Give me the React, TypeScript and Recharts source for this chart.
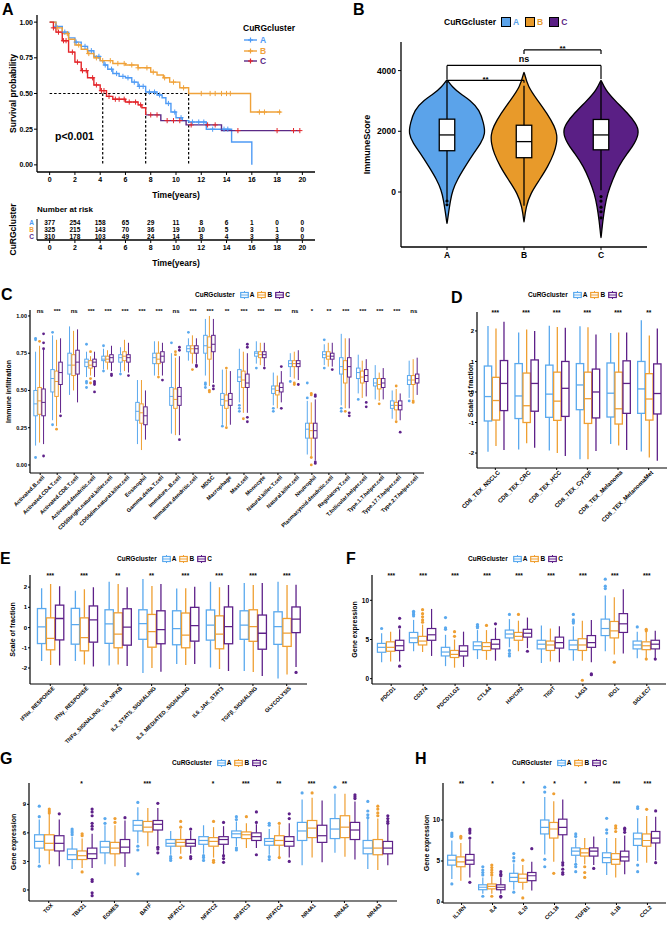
import React from "react";
import {
  Bar,
  ComposedChart,
  Curve,
  Line,
  ReferenceLine,
  Scatter,
  ScatterChart,
  XAxis,
  YAxis,
} from "recharts";

type Stat = [number, number, number, number, number]; // lo, q1, median, q3, hi
type G = "A" | "B" | "C";

const FONT = "'Liberation Sans', Arial, sans-serif";
const GROUPS: G[] = ["A", "B", "C"];
const BOX_COL: Record<G, string> = { A: "#5AA9EE", B: "#EF9F32", C: "#5E2189" };
const VIO_COL: Record<G, string> = { A: "#5BA3EA", B: "#E89A2A", C: "#5A1F85" };
const KM_COL: Record<G, string> = { A: "#4F9BF5", B: "#F0A23A", C: "#E3262B" };
const KM_C_LATE = "#5B2A86";

// ---------- A: survival ----------
const KM_A_T = [0, 0.5, 1, 1.5, 2, 2.5, 3, 3.5, 4, 4.3, 4.6, 5, 5.5, 6, 6.5, 7, 7.6, 8.5, 8.9, 9.2, 9.6, 10, 10.5, 11, 12.4, 14.4, 16];
const KM_A_S = [1, 0.97, 0.93, 0.89, 0.86, 0.83, 0.8, 0.76, 0.73, 0.7, 0.67, 0.64, 0.62, 0.61, 0.58, 0.55, 0.51, 0.49, 0.47, 0.43, 0.37, 0.33, 0.31, 0.3, 0.25, 0.16, 0];
const KM_B_T = [0, 0.5, 1, 1.5, 2, 2.5, 3, 3.5, 4, 5, 6, 7, 8, 8.5, 9, 9.5, 10.3, 11, 15.9, 18.3];
const KM_B_S = [1, 0.96, 0.92, 0.88, 0.84, 0.81, 0.78, 0.75, 0.73, 0.71, 0.7, 0.68, 0.65, 0.63, 0.61, 0.58, 0.54, 0.5, 0.37, 0.37];
const KM_C_T = [0, 0.3, 0.5, 1, 1.5, 2, 2.5, 3, 3.5, 4, 4.5, 5, 6, 7, 7.3, 7.6, 8.8, 10.8, 13.6, 19.8];
const KM_C_S = [1, 0.96, 0.93, 0.87, 0.79, 0.72, 0.66, 0.61, 0.56, 0.52, 0.48, 0.46, 0.44, 0.42, 0.4, 0.35, 0.31, 0.28, 0.24, 0.24];
const CENSOR_A = [0.5, 1.2, 2.1, 2.8, 3.3, 3.9, 4.4, 4.9, 5.3, 5.8, 6.2, 6.7, 7.1, 7.4, 7.9, 8.3, 8.7, 9.4, 9.9, 10.4, 11.3, 11.8, 12.2, 12.9, 13.8, 14.1];
const CENSOR_B = [0.6, 1.4, 2.3, 3.1, 3.7, 4.2, 4.8, 5.4, 5.9, 6.5, 7.0, 7.7, 8.2, 9.1, 9.8, 10.6, 12.0, 12.7, 13.1, 13.6, 14.0, 14.3, 16.6, 17.0, 18.2];
const CENSOR_C = [0.3, 0.7, 1.1, 1.3, 1.8, 2.2, 2.6, 2.9, 3.4, 3.7, 4.1, 4.3, 4.7, 5.2, 5.5, 5.9, 6.3, 6.8, 7.2, 8.0, 8.5, 9.3, 9.8, 10.3, 11.2, 12.5, 13.1, 14.9, 18.0, 19.3, 19.8];
const MEDIAN_TIMES = [4.2, 7.6, 11.0];
const RISK_TIMES = [0, 2, 4, 6, 8, 10, 12, 14, 16, 18, 20];
const RISK_A = [377, 254, 158, 65, 29, 11, 8, 6, 1, 0, 0];
const RISK_B = [325, 215, 143, 70, 36, 19, 10, 5, 3, 1, 0];
const RISK_C = [310, 178, 103, 49, 24, 14, 8, 4, 3, 3, 0];

// ---------- B: violin ----------
const VIO_A_V = [3700, 3470, 3230, 3030, 2700, 2270, 1930, 1600, 1275, 835, 395, 65, -265, -690, -1050];
const VIO_A_W = [0, 0.13, 0.35, 0.6, 0.85, 0.95, 1.0, 0.88, 0.69, 0.47, 0.26, 0.15, 0.09, 0.04, 0];
const VIO_B_V = [3960, 3470, 3030, 2590, 2150, 1880, 1600, 1275, 835, 395, -45, -480, -1010];
const VIO_B_W = [0, 0.1, 0.35, 0.6, 0.8, 0.86, 0.85, 0.78, 0.62, 0.4, 0.17, 0.05, 0];
const VIO_C_V = [3690, 3360, 3030, 2590, 2270, 1990, 1600, 1275, 835, 395, -45, -480, -920, -1530];
const VIO_C_W = [0, 0.12, 0.35, 0.7, 0.9, 1.0, 0.88, 0.68, 0.45, 0.3, 0.17, 0.1, 0.05, 0];
const SCORE_BOX: Stat[] = [
  [-260, 1360, 1880, 2400, 3630],
  [-450, 1130, 1660, 2200, 3500],
  [60, 1390, 1880, 2390, 3640],
];
const SCORE_OUT = [[-300, -420], [], [-150, -300, -500, -650, -850]];
const BRACKETS = [
  { from: "A", to: "B", y: 3680, end: 3600, text: "**" },
  { from: "A", to: "C", y: 4170, end: 3720, text: "ns" },
  { from: "B", to: "C", y: 4680, end: 4550, text: "**" },
];

// ---------- C: immune infiltration ----------
const IMM_CELLS = [
  "Activated.B.cell", "Activated.CD4.T.cell", "Activated.CD8.T.cell", "Activated.dendritic.cell",
  "CD56bright.natural.killer.cell", "CD56dim.natural.killer.cell", "Eosinophil", "Gamma.delta.T.cell",
  "Immature..B.cell", "Immature.dendritic.cell", "MDSC", "Macrophage", "Mast.cell", "Monocyte",
  "Natural.killer.T.cell", "Natural.killer.cell", "Neutrophil", "Plasmacytoid.dendritic.cell",
  "Regulatory.T.cell", "T.follicular.helper.cell", "Type.1.T.helper.cell", "Type.17.T.helper.cell",
  "Type.2.T.helper.cell",
];
const IMM_SIG = ["ns", "***", "ns", "***", "***", "***", "***", "***", "ns", "***", "***", "**", "***", "***", "***", "ns", "*", "**", "***", "***", "***", "***", "ns"];
const IMM_A: Stat[] = [
  [0.13, 0.33, 0.41, 0.5, 0.76], [0.3, 0.49, 0.58, 0.64, 0.87], [0.47, 0.61, 0.67, 0.75, 0.93],
  [0.59, 0.66, 0.69, 0.71, 0.76], [0.64, 0.7, 0.71, 0.73, 0.78], [0.62, 0.69, 0.72, 0.74, 0.79],
  [0.14, 0.3, 0.36, 0.42, 0.57], [0.6, 0.68, 0.72, 0.75, 0.83], [0.21, 0.4, 0.46, 0.52, 0.75],
  [0.7, 0.76, 0.78, 0.8, 0.85], [0.6, 0.75, 0.8, 0.87, 0.98], [0.27, 0.4, 0.44, 0.48, 0.64],
  [0.42, 0.56, 0.59, 0.64, 0.78], [0.68, 0.73, 0.75, 0.76, 0.83], [0.4, 0.48, 0.51, 0.53, 0.62],
  [0.59, 0.66, 0.68, 0.7, 0.75], [0.07, 0.18, 0.24, 0.28, 0.43], [0.67, 0.72, 0.74, 0.76, 0.81],
  [0.4, 0.61, 0.66, 0.72, 0.88], [0.48, 0.58, 0.62, 0.65, 0.74], [0.44, 0.53, 0.55, 0.58, 0.67],
  [0.31, 0.38, 0.4, 0.43, 0.5], [0.45, 0.54, 0.57, 0.6, 0.7],
];
const IMM_B: Stat[] = [
  [0.15, 0.34, 0.43, 0.52, 0.8], [0.26, 0.46, 0.56, 0.63, 0.84], [0.5, 0.6, 0.67, 0.74, 0.9],
  [0.6, 0.65, 0.67, 0.7, 0.73], [0.64, 0.69, 0.71, 0.73, 0.77], [0.63, 0.7, 0.73, 0.76, 0.84],
  [0.1, 0.28, 0.35, 0.41, 0.57], [0.6, 0.68, 0.71, 0.75, 0.83], [0.2, 0.38, 0.44, 0.51, 0.72],
  [0.68, 0.75, 0.78, 0.8, 0.87], [0.53, 0.71, 0.79, 0.86, 1.0], [0.26, 0.38, 0.43, 0.47, 0.64],
  [0.35, 0.52, 0.57, 0.63, 0.76], [0.67, 0.72, 0.74, 0.76, 0.82], [0.38, 0.47, 0.5, 0.53, 0.6],
  [0.58, 0.66, 0.68, 0.7, 0.76], [0.06, 0.18, 0.23, 0.28, 0.42], [0.66, 0.71, 0.73, 0.76, 0.82],
  [0.38, 0.55, 0.64, 0.7, 0.85], [0.45, 0.55, 0.59, 0.63, 0.7], [0.43, 0.51, 0.54, 0.58, 0.62],
  [0.3, 0.37, 0.4, 0.42, 0.51], [0.44, 0.54, 0.57, 0.6, 0.71],
];
const IMM_C: Stat[] = [
  [0.14, 0.33, 0.42, 0.51, 0.78], [0.35, 0.54, 0.62, 0.69, 0.85], [0.42, 0.61, 0.69, 0.77, 0.91],
  [0.59, 0.66, 0.69, 0.71, 0.76], [0.63, 0.69, 0.72, 0.74, 0.8], [0.62, 0.69, 0.72, 0.74, 0.82],
  [0.17, 0.27, 0.33, 0.39, 0.5], [0.6, 0.69, 0.73, 0.76, 0.82], [0.2, 0.4, 0.46, 0.52, 0.73],
  [0.68, 0.75, 0.78, 0.8, 0.85], [0.55, 0.76, 0.81, 0.87, 0.98], [0.27, 0.4, 0.44, 0.48, 0.63],
  [0.35, 0.52, 0.55, 0.61, 0.75], [0.66, 0.72, 0.74, 0.76, 0.82], [0.42, 0.49, 0.52, 0.55, 0.63],
  [0.57, 0.66, 0.68, 0.7, 0.77], [0.03, 0.18, 0.23, 0.28, 0.44], [0.66, 0.71, 0.73, 0.75, 0.82],
  [0.38, 0.59, 0.66, 0.72, 0.85], [0.46, 0.56, 0.6, 0.64, 0.71], [0.44, 0.52, 0.55, 0.58, 0.65],
  [0.3, 0.37, 0.4, 0.43, 0.48], [0.47, 0.55, 0.58, 0.61, 0.72],
];
const IMM_OUT_A = [[0.85, 0.84, 0.05], [0.89, 0.27], [], [0.81, 0.56, 0.55, 0.52], [0.8, 0.63], [0.61], [], [], [0.82], [0.89], [0.55, 0.54, 0.52], [0.26], [0.4, 0.38, 0.36], [0.65], [0.38, 0.36], [0.56], [0.55, 0.45], [0.84, 0.65], [0.38, 0.36], [0.44], [], [], [0.43]];
const IMM_OUT_B = [[0.83], [0.24], [], [0.76, 0.58, 0.55], [], [], [], [0.59], [0.76, 0.74], [0.64], [0.5, 0.49], [0.65, 0.25], [0.31], [], [], [0.55, 0.54], [0.48, 0.47, 0.05, 0.0], [], [0.36], [], [0.41], [0.53, 0.29], [0.43, 0.42]];
const IMM_OUT_C = [[0.88, 0.82, 0.78, 0.06], [0.33], [], [0.56, 0.55, 0.54, 0.49], [0.61, 0.6], [0.6], [], [0.57], [0.79, 0.77, 0.17], [0.67, 0.66], [0.53, 0.51], [], [0.81, 0.79, 0.32, 0.29], [0.65], [0.66, 0.38], [0.54], [0.47, 0.46, 0.02, 0.01], [0.64], [0.35, 0.33], [0.42, 0.39], [], [0.22], []];

// ---------- D: CD8 TEX ----------
const TEX_SETS = ["CD8_TEX_NSCLC", "CD8_TEX_CRC", "CD8_TEX_HCC", "CD8_TEX_CyTOF", "CD8_TEX_Melanoma", "CD8_TEX_MelanomaMet"];
const TEX_SIG = ["***", "***", "***", "***", "***", "**"];
const TEX_A: Stat[] = [[-1.96, -0.95, -0.15, 0.85, 2.16], [-1.88, -0.87, -0.13, 0.93, 1.95], [-1.92, -0.83, -0.07, 0.88, 2.17], [-2.2, -0.58, 0.23, 0.93, 2.15], [-1.7, -0.82, -0.04, 0.95, 1.93], [-1.95, -0.7, 0.1, 1.0, 2.35]];
const TEX_B: Stat[] = [[-1.77, -0.92, -0.28, 0.48, 2.08], [-1.68, -1.0, -0.45, 0.62, 2.05], [-2.0, -0.93, -0.3, 0.65, 2.13], [-2.2, -1.03, -0.22, 0.65, 2.12], [-1.75, -1.05, -0.55, 0.65, 1.95], [-2.15, -0.92, -0.23, 0.6, 1.85]];
const TEX_C: Stat[] = [[-1.9, -0.61, 0.28, 1.03, 2.3], [-1.83, -0.63, 0.28, 1.05, 2.0], [-2.1, -0.8, 0.12, 1.0, 2.1], [-1.93, -0.85, 0.0, 0.75, 1.88], [-1.9, -0.7, 0.28, 1.02, 1.95], [-2.25, -0.72, -0.05, 0.92, 2.08]];

// ---------- E: pathways ----------
const PATHWAYS = ["IFNα_RESPONSE", "IFNγ_RESPONSE", "TNFα_SIGNALING_VIA_NFKB", "IL2_STAT5_SIGNALING", "IL3_MEDIATED_SIGNALING", "IL6_JAK_STAT3", "TGFβ_SIGNALING", "GLYCOLYSIS"];
const PATH_SIG = ["***", "***", "**", "**", "***", "***", "***", "***"];
const PATH_A: Stat[] = [[-1.65, -0.79, 0.03, 0.94, 1.95], [-1.65, -0.82, 0.15, 0.95, 1.82], [-1.88, -0.78, 0.18, 0.88, 2.27], [-2.25, -0.58, 0.2, 0.88, 2.4], [-1.8, -0.85, -0.05, 0.83, 1.93], [-1.98, -0.62, 0.12, 0.87, 2.27], [-2.15, -0.58, 0.12, 0.83, 2.2], [-2.52, -0.83, 0.05, 0.78, 2.27]];
const PATH_B: Stat[] = [[-1.85, -1.1, -0.53, 0.48, 2.15], [-1.83, -1.15, -0.5, 0.48, 1.9], [-1.82, -1.0, -0.32, 0.73, 2.15], [-2.0, -0.97, -0.2, 0.65, 2.05], [-1.85, -1.0, -0.37, 0.72, 1.95], [-2.05, -1.05, -0.32, 0.58, 2.0], [-2.2, -0.68, 0.05, 0.88, 2.1], [-2.32, -0.93, -0.27, 0.45, 2.1]];
const PATH_C: Stat[] = [[-1.88, -0.61, 0.45, 1.11, 2.04], [-1.92, -0.72, 0.38, 1.07, 2.0], [-1.9, -0.87, 0.02, 0.93, 2.0], [-2.18, -0.8, -0.1, 0.83, 2.15], [-1.8, -0.67, 0.1, 1.0, 2.02], [-2.15, -0.8, 0.05, 1.02, 2.1], [-2.4, -1.07, -0.28, 0.62, 2.2], [-1.95, -0.25, 0.42, 1.02, 2.12]];
const PATH_OUT_C = [[], [], [], [], [], [], [], [-2.22]];

// ---------- F: checkpoints ----------
const CHECKPOINTS = ["PDCD1", "CD274", "PDCD1LG2", "CTLA4", "HAVCR2", "TIGIT", "LAG3", "IDO1", "SIGLEC7"];
const CHECK_SIG = ["***", "***", "***", "***", "***", "***", "***", "***", "***"];
const CHECK_A: Stat[] = [[2.1, 3.37, 4.0, 4.5, 5.8], [3.5, 4.6, 5.2, 5.9, 7.5], [1.6, 2.9, 3.4, 4.0, 5.6], [2.5, 3.7, 4.2, 4.7, 6.2], [4.0, 5.2, 5.7, 6.2, 7.6], [2.0, 3.8, 4.4, 4.9, 6.8], [2.3, 3.7, 4.3, 4.9, 6.7], [3.5, 5.5, 6.4, 7.6, 10.6], [2.6, 3.8, 4.3, 4.8, 6.0]];
const CHECK_B: Stat[] = [[2.2, 3.5, 4.0, 4.7, 6.0], [3.4, 4.3, 4.8, 5.4, 6.9], [1.4, 2.7, 3.1, 3.6, 5.0], [2.4, 3.6, 4.1, 4.6, 6.2], [3.5, 4.9, 5.4, 5.9, 7.4], [2.2, 3.6, 4.3, 4.8, 6.4], [2.3, 3.6, 4.3, 5.1, 7.4], [3.1, 5.2, 6.1, 7.3, 10.4], [2.6, 3.7, 4.2, 4.7, 6.1]];
const CHECK_C: Stat[] = [[2.2, 3.6, 4.2, 4.9, 6.3], [2.9, 4.9, 5.6, 6.4, 8.9], [1.5, 2.9, 3.5, 4.2, 6.0], [2.3, 3.8, 4.4, 5.0, 6.5], [3.9, 5.3, 5.8, 6.3, 7.8], [2.1, 3.9, 4.6, 5.3, 6.7], [2.1, 4.0, 4.6, 5.5, 7.5], [3.2, 5.9, 7.0, 8.3, 11.4], [2.6, 3.8, 4.4, 4.9, 6.1]];
const CHECK_OUT_A = [[6.4], [8.6, 8.4, 8.2, 8.0], [7.8, 6.5, 6.3], [6.9, 6.7, 6.5], [8.2, 3.6, 3.2, 2.9], [], [8.2, 7.5, 7.3, 7.1], [12.7, 11.8, 11.5], [6.6]];
const CHECK_OUT_B = [[], [8.8, 8.3, 7.9, 7.5, 7.2], [6.0, 5.4], [6.8], [8.2], [], [-0.2], [2.1], [6.3, 6.1, 2.5]];
const CHECK_OUT_C = [[7.7, 6.6, 1.6], [], [], [7.0], [3.5], [], [0.6, 0.5], [], [2.5]];

// ---------- G: T cell TFs ----------
const TF_GENES = ["TOX", "TBX21", "EOMES", "BATF", "NFATC1", "NFATC2", "NFATC3", "NFATC4", "NR4A1", "NR4A2", "NR4A3"];
const TF_SIG = ["", "*", "", "***", "", "*", "***", "**", "***", "**", ""];
const TF_A: Stat[] = [[2.8, 4.4, 5.1, 5.8, 7.4], [2.2, 3.2, 3.7, 4.3, 5.6], [2.7, 3.9, 4.5, 5.1, 6.8], [4.9, 6.2, 6.8, 7.3, 8.7], [3.7, 4.6, 4.9, 5.3, 6.2], [3.8, 4.8, 5.2, 5.6, 6.8], [4.6, 5.5, 5.9, 6.2, 7.2], [3.7, 4.7, 5.1, 5.4, 6.4], [2.6, 5.2, 6.2, 7.1, 9.5], [3.9, 5.4, 6.4, 7.5, 10.1], [2.2, 3.8, 4.4, 5.2, 7.5]];
const TF_B: Stat[] = [[2.7, 4.2, 4.9, 5.8, 8.0], [2.3, 3.2, 3.6, 4.1, 5.4], [2.5, 3.8, 4.4, 5.0, 6.8], [4.6, 6.1, 6.6, 7.2, 8.6], [3.8, 4.6, 5.0, 5.3, 6.4], [3.4, 4.6, 5.1, 5.5, 6.6], [4.4, 5.4, 5.8, 6.1, 7.0], [3.4, 4.7, 5.2, 5.7, 6.8], [3.4, 5.5, 6.5, 7.3, 9.7], [3.5, 5.5, 6.6, 7.8, 10.1], [2.1, 3.7, 4.4, 5.3, 7.5]];
const TF_C: Stat[] = [[2.5, 4.1, 4.9, 5.7, 7.4], [2.3, 3.3, 3.8, 4.4, 5.9], [2.4, 3.9, 4.5, 5.3, 7.3], [4.7, 6.3, 6.9, 7.3, 8.6], [3.8, 4.6, 4.9, 5.3, 6.2], [3.7, 4.8, 5.3, 5.6, 6.7], [4.4, 5.2, 5.6, 6.0, 6.9], [3.4, 4.6, 5.1, 5.6, 7.0], [2.9, 5.0, 5.7, 6.8, 9.4], [3.2, 5.3, 6.3, 7.1, 9.3], [2.6, 3.8, 4.4, 5.1, 6.9]];
const TF_OUT_A = [[8.8, 7.7, 2.5], [6.4, 6.2, 6.0, 5.8], [7.5, 7.0], [9.2, 4.6, 4.2, 1.7], [3.5, 3.3, 3.1], [3.6, 3.4, 3.1], [7.7, 7.4, 4.4, 4.2], [7.0, 6.8, 3.5, 3.2], [10.2], [10.8], [9.3, 8.3, 7.9, 7.6]];
const TF_OUT_B = [[8.5, 8.3, 8.1], [5.9, 5.7, 1.9], [7.5, 7.1], [], [7.2, 6.6, 3.4], [7.2, 3.1, 2.9], [7.7], [7.0, 3.4], [10.2], [], [8.8, 8.5, 8.1, 7.8]];
const TF_OUT_C = [[8.0], [8.5, 8.2, 7.8, 7.0, 6.7, 6.4, 1.1, 0.9, -0.3, -0.6], [7.6], [9.1, 4.5, 4.3, 3.9], [6.4, 3.5, 3.3], [7.1, 3.6, 3.3, 2.9], [8.2, 7.1, 3.7], [8.0, 7.5, 3.0], [], [10.0, 9.8, 9.6], [7.8, 7.5, 7.2, 7.0]];

// ---------- H: cytokines ----------
const CYTOKINES = ["IL1RN", "IL4", "IL10", "CCL18", "TGFB1", "IL1B", "CCL2"];
const CYTO_SIG = ["**", "*", "*", "*", "*", "***", "***"];
const CYTO_A: Stat[] = [[2.8, 4.5, 5.1, 5.7, 7.5], [1.0, 1.5, 1.8, 2.1, 3.0], [1.5, 2.5, 3.0, 3.5, 4.7], [5.8, 8.3, 9.1, 10.0, 12.8], [4.8, 5.7, 6.2, 6.6, 7.7], [3.3, 4.8, 5.4, 6.0, 7.8], [5.0, 6.9, 7.7, 8.4, 10.2]];
const CYTO_B: Stat[] = [[2.6, 4.3, 4.9, 5.5, 7.2], [1.0, 1.6, 1.9, 2.2, 3.1], [1.5, 2.4, 2.9, 3.4, 4.5], [4.9, 7.8, 8.9, 9.7, 12.3], [4.6, 5.6, 6.0, 6.5, 7.8], [3.0, 4.6, 5.2, 5.9, 7.8], [4.8, 6.8, 7.5, 8.3, 10.5]];
const CYTO_C: Stat[] = [[3.0, 4.6, 5.1, 5.8, 7.6], [1.0, 1.5, 1.8, 2.1, 3.0], [1.4, 2.6, 3.2, 3.6, 4.9], [5.0, 8.2, 9.1, 10.1, 12.5], [4.5, 5.6, 6.2, 6.6, 8.0], [3.4, 5.0, 5.5, 6.2, 8.1], [5.1, 7.2, 7.8, 8.6, 10.4]];
const CYTO_OUT_A = [[8.4, 8.2, 8.0, 2.2], [4.3, 3.9, 3.6, 3.3, 0.7], [5.9, 5.4, 5.0, 1.2], [14.0, 13.4, 5.2, 4.3], [8.3, 8.0, 4.6, 4.3, 3.7], [10.2, 8.8, 8.4], [11.6, 11.4, 4.5, 3.7]];
const CYTO_OUT_B = [[8.0, 7.8], [4.5, 4.2, 3.9, 3.6, 3.3, 0.7], [5.1, 0.5], [13.2, 3.5], [4.3, 3.6, 3.0], [9.3, 9.0, 8.6], [11.3]];
const CYTO_OUT_C = [[8.9, 8.7, 8.4, 7.8, 2.4], [3.7, 3.4, 3.2, 0.7, 0.6], [6.5], [4.8, 4.5, 4.0, 3.6, 3.4], [4.1], [9.0, 8.8, 8.5], [11.1, 4.8]];

// ---------- helpers ----------
const bold = (fs: number) => ({ fill: "#000", fontSize: fs, fontWeight: 700, fontFamily: FONT });

const kmAt = (ts: number[], ss: number[], t: number) => {
  let v = ss[0];
  ts.forEach((x, i) => {
    if (x <= t) v = ss[i];
  });
  return v;
};

function PanelLetter({ x, y, text }: { x: number; y: number; text: string }) {
  return (
    <div style={{ position: "absolute", left: x, top: y, fontFamily: FONT, fontWeight: 700, fontSize: 16, lineHeight: 1 }}>
      {text}
    </div>
  );
}

function BoxLegend({ left, cy, fs }: { left: number; cy: number; fs: number }) {
  return (
    <div
      style={{
        position: "absolute", left, top: cy - fs * 0.6, display: "flex", alignItems: "center",
        fontFamily: FONT, fontWeight: 700, fontSize: fs, lineHeight: 1.2, whiteSpace: "nowrap",
      }}
    >
      <span style={{ marginRight: 5 }}>CuRGcluster</span>
      {GROUPS.map((g) => (
        <span key={g} style={{ display: "flex", alignItems: "center", marginRight: 3 }}>
          <svg width={9} height={8} style={{ marginRight: 1 }}>
            <line x1={4.5} x2={4.5} y1={0} y2={8} stroke={BOX_COL[g]} strokeWidth={1} />
            <rect x={0.7} y={1.5} width={7.6} height={5} fill="#fff" stroke={BOX_COL[g]} strokeWidth={1.2} />
            <line x1={0.7} x2={8.3} y1={4} y2={4} stroke={BOX_COL[g]} strokeWidth={1} />
          </svg>
          <span>{g}</span>
        </span>
      ))}
    </div>
  );
}

function BoxShape(props: any) {
  const { x, y, width, height, payload, g, sw, r } = props;
  const s: Stat = payload[g];
  const [lo, q1, med, q3, hi] = s;
  const py = (v: number) => y + ((hi - v) / (hi - lo)) * height;
  const cx = x + width / 2;
  const bw = Math.max(width - sw * 0.5, 1);
  const col = BOX_COL[g as G];
  const outs: number[] = payload["o" + g] || [];
  return (
    <g>
      <line x1={cx} x2={cx} y1={py(hi)} y2={py(q3)} stroke={col} strokeWidth={sw} />
      <line x1={cx} x2={cx} y1={py(q1)} y2={py(lo)} stroke={col} strokeWidth={sw} />
      <rect x={cx - bw / 2} y={py(q3)} width={bw} height={py(q1) - py(q3)} fill="#fff" stroke={col} strokeWidth={sw} />
      <line x1={cx - bw / 2} x2={cx + bw / 2} y1={py(med)} y2={py(med)} stroke={col} strokeWidth={sw} />
      {outs.map((o, i) => (
        <circle key={i} cx={cx} cy={py(o)} r={r} fill={col} />
      ))}
    </g>
  );
}

type BoxPanelProps = {
  left: number; top: number; width: number; height: number;
  mTop: number; mRight: number; yW: number; xH: number;
  names: string[]; sig: string[]; stats: Stat[][]; outs: number[][][];
  domain: [number, number]; ticks: number[]; fmt?: (v: number) => string;
  yLabel: string; yLabelX: number; tickFs: number; xFs: number; sigFs: number; labFs: number;
  sw: number; r: number; gap: string; pad: number;
};

function BoxPanel(p: BoxPanelProps) {
  const rows = p.names.map((name, i) => ({
    name,
    sig: p.sig[i],
    A: p.stats[0][i], B: p.stats[1][i], C: p.stats[2][i],
    oA: (p.outs[0] || [])[i] || [], oB: (p.outs[1] || [])[i] || [], oC: (p.outs[2] || [])[i] || [],
  }));
  const tick = (t: any) => {
    const { x, y, payload } = t;
    const i = p.names.indexOf(payload.value);
    return (
      <g>
        <text
          x={x + 2} y={y - 1} dy={p.xFs * 0.7} transform={`rotate(-45 ${x + 2} ${y - 1})`}
          textAnchor="end" {...bold(p.xFs)}
        >
          {payload.value}
        </text>
        <text x={x} y={p.mTop + 3} textAnchor="middle" {...bold(p.sigFs)}>
          {p.sig[i]}
        </text>
      </g>
    );
  };
  return (
    <div style={{ position: "absolute", left: p.left, top: p.top }}>
      <ComposedChart
        width={p.width} height={p.height} data={rows}
        margin={{ top: p.mTop, right: p.mRight, left: 0, bottom: 0 }}
        barCategoryGap={p.gap} barGap={0}
      >
        <XAxis
          dataKey="name" type="category" height={p.xH} interval={0} tick={tick}
          tickSize={2} tickMargin={1} padding={{ left: p.pad, right: p.pad }}
          axisLine={{ stroke: "#000", strokeWidth: 1.2 }} tickLine={{ stroke: "#000" }}
        />
        <YAxis
          type="number" domain={p.domain} ticks={p.ticks} allowDataOverflow width={p.yW}
          tickFormatter={p.fmt} tick={bold(p.tickFs)} tickSize={2} tickMargin={1}
          axisLine={{ stroke: "#000", strokeWidth: 1.2 }} tickLine={{ stroke: "#000" }}
          label={{
            value: p.yLabel, angle: -90, position: "insideLeft", offset: p.yLabelX,
            style: { textAnchor: "middle", fontSize: p.labFs, fontWeight: 700, fontFamily: FONT, fill: "#000" },
          }}
        />
        {GROUPS.map((g) => (
          <Bar
            key={g}
            dataKey={(d: any) => [d[g][0], d[g][4]]}
            isAnimationActive={false}
            shape={(s: any) => <BoxShape {...s} g={g} sw={p.sw} r={p.r} />}
          />
        ))}
      </ComposedChart>
    </div>
  );
}

function ViolinShape(props: any) {
  const { x, y, width, height, payload } = props;
  const [vmin, vmax] = payload.range;
  const py = (v: number) => y + ((vmax - v) / (vmax - vmin)) * height;
  const cx = x + width / 2;
  const half = width / 2;
  const right = payload.dv.map((v: number, i: number) => ({ x: cx + payload.dw[i] * half, y: py(v) }));
  const left = right.map((pt: any) => ({ x: 2 * cx - pt.x, y: pt.y })).reverse();
  const [lo, q1, med, q3, hi] = payload.box as Stat;
  const bw = 15.5;
  return (
    <g>
      <Curve points={[...right, ...left]} type="basisClosed" fill={payload.fill} stroke="#000" strokeWidth={1.3} />
      <line x1={cx} x2={cx} y1={py(hi)} y2={py(lo)} stroke="#000" strokeWidth={1.3} />
      <rect x={cx - bw / 2} y={py(q3)} width={bw} height={py(q1) - py(q3)} fill="#fff" stroke="#000" strokeWidth={1.3} />
      <line x1={cx - bw / 2} x2={cx + bw / 2} y1={py(med)} y2={py(med)} stroke="#000" strokeWidth={1.3} />
      {payload.outs.map((o: number, i: number) => (
        <circle key={i} cx={cx} cy={py(o)} r={1.6} fill="#000" />
      ))}
    </g>
  );
}

function KMPanel() {
  const series = [
    { g: "A" as G, t: KM_A_T, s: KM_A_S, cens: CENSOR_A },
    { g: "B" as G, t: KM_B_T, s: KM_B_S, cens: CENSOR_B },
    { g: "C" as G, t: KM_C_T, s: KM_C_S, cens: CENSOR_C },
  ];
  const steps = series.map((se) => se.t.map((t, i) => ({ t, s: se.s[i] })));
  const cEarly = steps[2].filter((d) => d.t <= 7.6);
  const cLate = steps[2].filter((d) => d.t >= 7.6);
  const cross = (color: string) => (p: any) => (
    <g>
      <line x1={p.cx - 2.6} x2={p.cx + 2.6} y1={p.cy} y2={p.cy} stroke={color} strokeWidth={1} />
      <line x1={p.cx} x2={p.cx} y1={p.cy - 2.6} y2={p.cy + 2.6} stroke={color} strokeWidth={1} />
    </g>
  );
  const riskRows = GROUPS.flatMap((g, k) =>
    RISK_TIMES.map((t, i) => ({ t, g, n: [RISK_A, RISK_B, RISK_C][k][i] }))
  );
  const times = [0, 2, 4, 6, 8, 10, 12, 14, 16, 18, 20];
  const axisStyle = { stroke: "#000", strokeWidth: 1.3 };
  return (
    <>
      <div style={{ position: "absolute", left: 0, top: 0 }}>
        <ComposedChart width={340} height={200} margin={{ top: 15, right: 25, left: 0, bottom: 0 }}>
          <XAxis
            dataKey="t" type="number" domain={[-1, 21]} ticks={times} allowDataOverflow height={28}
            tick={bold(7)} tickSize={3} tickMargin={2} axisLine={axisStyle} tickLine={{ stroke: "#000" }}
            label={{ value: "Time(years)", position: "insideBottom", offset: 2, style: { ...bold(8.5) } }}
          />
          <YAxis
            type="number" domain={[-0.05, 1.05]} ticks={[0, 0.25, 0.5, 0.75, 1]} allowDataOverflow width={37}
            tickFormatter={(v: number) => v.toFixed(2)} tick={bold(7)} tickSize={3} tickMargin={1}
            axisLine={axisStyle} tickLine={{ stroke: "#000" }}
            label={{
              value: "Survival probability", angle: -90, position: "insideLeft", offset: 13,
              style: { ...bold(8.5), textAnchor: "middle" },
            }}
          />
          <ReferenceLine segment={[{ x: 0, y: 0.5 }, { x: MEDIAN_TIMES[2], y: 0.5 }]} stroke="#000" strokeDasharray="2.5 2" strokeWidth={1.2} />
          {MEDIAN_TIMES.map((m) => (
            <ReferenceLine key={m} segment={[{ x: m, y: 0.5 }, { x: m, y: 0 }]} stroke="#000" strokeDasharray="2.5 2" strokeWidth={1.2} />
          ))}
          <Line data={steps[0]} dataKey="s" type="stepAfter" stroke={KM_COL.A} strokeWidth={1.4} dot={false} isAnimationActive={false} />
          <Line data={steps[1]} dataKey="s" type="stepAfter" stroke={KM_COL.B} strokeWidth={1.4} dot={false} isAnimationActive={false} />
          <Line data={cLate} dataKey="s" type="stepAfter" stroke={KM_C_LATE} strokeWidth={1.4} dot={false} isAnimationActive={false} />
          <Line data={cEarly} dataKey="s" type="stepAfter" stroke={KM_COL.C} strokeWidth={1.4} dot={false} isAnimationActive={false} />
          {series.map((se) => (
            <Scatter
              key={se.g}
              data={se.cens.map((t) => ({ t, s: kmAt(se.t, se.s, t) }))}
              dataKey="s"
              shape={cross(KM_COL[se.g])}
              isAnimationActive={false}
            />
          ))}
        </ComposedChart>
      </div>
      <div style={{ position: "absolute", left: 55, top: 130, fontFamily: FONT, fontWeight: 700, fontSize: 10.5 }}>
        p&lt;0.001
      </div>
      <div style={{ position: "absolute", left: 243, top: 24, fontFamily: FONT, fontWeight: 700, fontSize: 8.5, lineHeight: 1 }}>
        CuRGcluster
      </div>
      {GROUPS.map((g, i) => (
        <div key={g} style={{ position: "absolute", left: 244, top: 36 + i * 10.5, display: "flex", alignItems: "center", fontFamily: FONT, fontWeight: 700, fontSize: 8.5, lineHeight: 1, color: g === "C" ? KM_C_LATE : KM_COL[g] }}>
          <svg width={13} height={8}>
            <line x1={0} x2={13} y1={4} y2={4} stroke={g === "C" ? KM_C_LATE : KM_COL[g]} strokeWidth={1.4} />
            <line x1={4} x2={9} y1={4} y2={4} stroke={KM_COL[g]} strokeWidth={1.2} />
            <line x1={6.5} x2={6.5} y1={1.5} y2={6.5} stroke={KM_COL[g]} strokeWidth={1.2} />
          </svg>
          <span style={{ marginLeft: 3 }}>{g}</span>
        </div>
      ))}
      <div style={{ position: "absolute", left: 37, top: 206, fontFamily: FONT, fontWeight: 700, fontSize: 8, lineHeight: 1 }}>
        Number at risk
      </div>
      <div style={{ position: "absolute", left: 0, top: 200 }}>
        <ScatterChart width={340} height={80} margin={{ top: 19, right: 25, left: 0, bottom: 0 }}>
          <XAxis
            dataKey="t" type="number" domain={[-1, 21]} ticks={times} allowDataOverflow height={40}
            tick={bold(7)} tickSize={3} tickMargin={2} axisLine={axisStyle} tickLine={{ stroke: "#000" }}
            label={{ value: "Time(years)", position: "insideBottom", offset: 14, style: { ...bold(8.5) } }}
          />
          <YAxis
            dataKey="g" type="category" allowDuplicatedCategory={false} width={37} reversed interval={0}
            tickSize={2} tickMargin={1} axisLine={{ stroke: "#000", strokeWidth: 1 }} tickLine={false}
            tick={(t: any) => (
              <text x={t.x} y={t.y} dy={2.4} textAnchor="end" {...bold(6.5)} fill={t.payload.value === "C" ? KM_C_LATE : KM_COL[t.payload.value as G]}>
                {t.payload.value}
              </text>
            )}
            label={{
              value: "CuRGcluster", angle: -90, position: "insideLeft", offset: 13,
              style: { ...bold(8.5), textAnchor: "middle" },
            }}
          />
          <Scatter
            data={riskRows}
            isAnimationActive={false}
            shape={(s: any) => (
              <text x={s.cx} y={s.cy} dy={2.4} textAnchor="middle" {...bold(6.5)}>
                {s.payload.n}
              </text>
            )}
          />
        </ScatterChart>
      </div>
    </>
  );
}

function ViolinPanel() {
  const vals = [VIO_A_V, VIO_B_V, VIO_C_V];
  const wids = [VIO_A_W, VIO_B_W, VIO_C_W];
  const rows = GROUPS.map((g, i) => ({
    name: g,
    range: [vals[i][vals[i].length - 1], vals[i][0]],
    dv: vals[i], dw: wids[i], box: SCORE_BOX[i], outs: SCORE_OUT[i], fill: VIO_COL[g],
  }));
  const ax = { stroke: "#000", strokeWidth: 1.3 };
  return (
    <>
      <div style={{ position: "absolute", left: 340, top: 30 }}>
        <ComposedChart width={329} height={240} data={rows} margin={{ top: 12, right: 22, left: 0, bottom: 0 }} barCategoryGap="0%">
          <XAxis
            dataKey="name" type="category" height={23} padding={{ left: 7.5, right: 7.5 }}
            tick={bold(8.5)} tickSize={3} tickMargin={2} axisLine={ax} tickLine={{ stroke: "#000" }}
          />
          <YAxis
            type="number" domain={[-1812, 4942]} ticks={[0, 2000, 4000]} allowDataOverflow width={61}
            tick={bold(8.5)} tickSize={3} tickMargin={2} axisLine={ax} tickLine={{ stroke: "#000" }}
            label={{ value: "ImmuneScore", angle: -90, position: "insideLeft", offset: 27, style: { ...bold(9), textAnchor: "middle" } }}
          />
          <Bar dataKey="range" isAnimationActive={false} shape={(s: any) => <ViolinShape {...s} />} />
          {BRACKETS.map((b) => (
            <ReferenceLine
              key={b.from + b.to}
              segment={[{ x: b.from, y: b.y }, { x: b.to, y: b.y }]}
              stroke="#000" strokeWidth={1.2}
              label={{ value: b.text, position: "top", offset: b.text === "ns" ? 3 : -1.5, ...bold(b.text === "ns" ? 9 : 8) }}
            />
          ))}
          {BRACKETS.flatMap((b) => [
            <ReferenceLine key={b.from + b.to + "l"} segment={[{ x: b.from, y: b.y }, { x: b.from, y: b.end }]} stroke="#000" strokeWidth={1.2} />,
            <ReferenceLine key={b.from + b.to + "r"} segment={[{ x: b.to, y: b.y }, { x: b.to, y: b.end }]} stroke="#000" strokeWidth={1.2} />,
          ])}
        </ComposedChart>
      </div>
      <div style={{ position: "absolute", left: 444, top: 17, display: "flex", alignItems: "center", fontFamily: FONT, fontWeight: 700, fontSize: 8.5, lineHeight: 1.2 }}>
        <span style={{ marginRight: 5 }}>CuRGcluster</span>
        {GROUPS.map((g) => (
          <span key={g} style={{ display: "flex", alignItems: "center", marginRight: 6, color: VIO_COL[g] }}>
            <span style={{ width: 10, height: 10, background: VIO_COL[g], border: "1.2px solid #000", boxSizing: "border-box", marginRight: 2 }} />
            {g}
          </span>
        ))}
      </div>
    </>
  );
}

const fmt2 = (v: number) => v.toFixed(2);

export default function App() {
  return (
    <div style={{ position: "absolute", left: 0, top: 0, width: 669, height: 926, background: "#fff", overflow: "hidden" }}>
      <style>{"svg.recharts-surface{overflow:visible}"}</style>
      <KMPanel />
      <ViolinPanel />

      <BoxPanel
        left={0} top={300} width={440} height={235} mTop={10} mRight={16} yW={30} xH={62}
        names={IMM_CELLS} sig={IMM_SIG} stats={[IMM_A, IMM_B, IMM_C]} outs={[IMM_OUT_A, IMM_OUT_B, IMM_OUT_C]}
        domain={[-0.054, 1.04]} ticks={[0, 0.25, 0.5, 0.75, 1]} fmt={fmt2}
        yLabel="Immune infiltration" yLabelX={9} tickFs={5.5} xFs={5.5} sigFs={6} labFs={7}
        sw={1} r={1.4} gap="11%" pad={1.7}
      />
      <BoxPanel
        left={440} top={300} width={229} height={235} mTop={12} mRight={2} yW={37} xH={67}
        names={TEX_SETS} sig={TEX_SIG} stats={[TEX_A, TEX_B, TEX_C]} outs={[[], [], []]}
        domain={[-2.49, 2.62]} ticks={[-2, -1, 0, 1, 2]}
        yLabel="Scale of fraction" yLabelX={31} tickFs={6} xFs={6} sigFs={6.5} labFs={7}
        sw={1.3} r={1.5} gap="13%" pad={3}
      />
      <BoxPanel
        left={0} top={565} width={330} height={179} mTop={10} mRight={23} yW={30} xH={60}
        names={PATHWAYS} sig={PATH_SIG} stats={[PATH_A, PATH_B, PATH_C]} outs={[[], [], PATH_OUT_C]}
        domain={[-2.79, 2.6]} ticks={[-2, -1, 0, 1, 2]}
        yLabel="Scale of fraction" yLabelX={13} tickFs={6} xFs={5.5} sigFs={6.5} labFs={7}
        sw={1.3} r={1.6} gap="11%" pad={3.4}
      />
      <BoxPanel
        left={330} top={565} width={339} height={179} mTop={10} mRight={3} yW={42} xH={60}
        names={CHECKPOINTS} sig={CHECK_SIG} stats={[CHECK_A, CHECK_B, CHECK_C]} outs={[CHECK_OUT_A, CHECK_OUT_B, CHECK_OUT_C]}
        domain={[-0.68, 13.23]} ticks={[0, 5, 10]}
        yLabel="Gene expression" yLabelX={25} tickFs={6.5} xFs={5.5} sigFs={6.5} labFs={7}
        sw={1.2} r={1.6} gap="6%" pad={3.2}
      />
      <BoxPanel
        left={0} top={775} width={400} height={151} mTop={8} mRight={3} yW={29} xH={25}
        names={TF_GENES} sig={TF_SIG} stats={[TF_A, TF_B, TF_C]} outs={[TF_OUT_A, TF_OUT_B, TF_OUT_C]}
        domain={[-1.16, 11.24]} ticks={[0, 3, 6, 9]}
        yLabel="Gene expression" yLabelX={14} tickFs={6} xFs={5.5} sigFs={6.5} labFs={7}
        sw={1.2} r={1.6} gap="6%" pad={3.3}
      />
      <BoxPanel
        left={400} top={775} width={269} height={151} mTop={8} mRight={3} yW={43} xH={23}
        names={CYTOKINES} sig={CYTO_SIG} stats={[CYTO_A, CYTO_B, CYTO_C]} outs={[CYTO_OUT_A, CYTO_OUT_B, CYTO_OUT_C]}
        domain={[-0.12, 14.51]} ticks={[0, 5, 10]}
        yLabel="Gene expression" yLabelX={27} tickFs={6.5} xFs={5.5} sigFs={6.5} labFs={7}
        sw={1.2} r={1.6} gap="4%" pad={3.1}
      />

      <BoxLegend left={195} cy={295} fs={6.5} />
      <BoxLegend left={528} cy={295} fs={6.5} />
      <BoxLegend left={117} cy={559} fs={6.5} />
      <BoxLegend left={468} cy={559} fs={6.5} />
      <BoxLegend left={172} cy={763} fs={6.5} />
      <BoxLegend left={512} cy={763} fs={6.5} />

      <PanelLetter x={2} y={2} text="A" />
      <PanelLetter x={353} y={2} text="B" />
      <PanelLetter x={1} y={287} text="C" />
      <PanelLetter x={451} y={290} text="D" />
      <PanelLetter x={0} y={551} text="E" />
      <PanelLetter x={346} y={551} text="F" />
      <PanelLetter x={0} y={751} text="G" />
      <PanelLetter x={415} y={751} text="H" />
    </div>
  );
}
